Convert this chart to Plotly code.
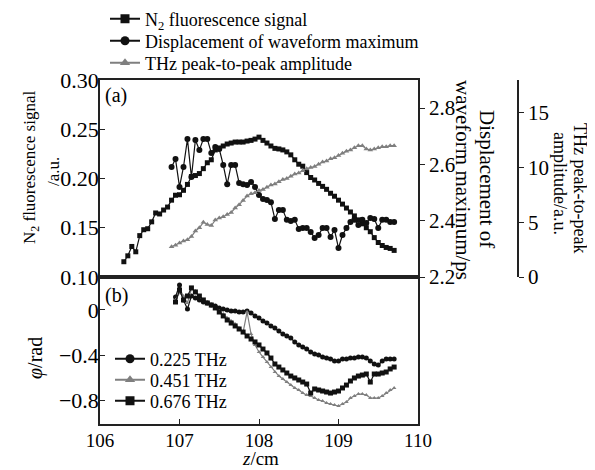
import numpy as np
import plotly.graph_objects as go

# (a) z positions, cm
z_n2 = np.round(np.arange(106.30, 109.701, 0.05), 2)
z_disp = np.round(np.arange(106.90, 109.701, 0.05), 2)
z_thz = np.round(np.arange(106.90, 109.701, 0.05), 2)

n2_signal = [0.1155, 0.1215, 0.131, 0.1256, 0.142, 0.148, 0.149, 0.156, 0.165, 0.164,
             0.168, 0.171, 0.178, 0.183, 0.1835, 0.188, 0.194, 0.202, 0.203, 0.205,
             0.210, 0.216, 0.219, 0.229, 0.231, 0.233, 0.235, 0.236, 0.237, 0.237,
             0.237, 0.238, 0.2387, 0.240, 0.242, 0.2387, 0.236, 0.233, 0.2306, 0.230,
             0.229, 0.227, 0.224, 0.219, 0.2145, 0.2125, 0.206, 0.201, 0.1985, 0.195,
             0.192, 0.189, 0.185, 0.182, 0.178, 0.174, 0.170, 0.166, 0.162, 0.158,
             0.154, 0.150, 0.146, 0.140, 0.135, 0.132, 0.130, 0.129, 0.127]

disp_max = [2.591, 2.619, 2.520, 2.591, 2.690, 2.555, 2.687, 2.651, 2.690, 2.690,
            2.641, 2.662, 2.655, 2.598, 2.530, 2.598, 2.598, 2.534, 2.530, 2.527,
            2.538, 2.520, 2.491, 2.477, 2.474, 2.466, 2.406, 2.438, 2.438, 2.403,
            2.399, 2.403, 2.371, 2.374, 2.374, 2.360, 2.339, 2.349, 2.374, 2.374,
            2.342, 2.367, 2.303, 2.349, 2.374, 2.395, 2.403, 2.385, 2.403, 2.392,
            2.410, 2.406, 2.374, 2.403, 2.403, 2.395, 2.395]

thz_amp = [2.77, 2.9, 3.1, 3.3, 3.4, 3.7, 4.2, 4.5, 5.0, 4.8,
           4.7, 5.2, 5.4, 5.5, 5.7, 5.9, 6.3, 6.6, 7.0, 7.4,
           7.6, 7.7, 7.9, 8.0, 8.2, 8.4, 8.5, 8.7, 8.9, 9.0,
           9.2, 9.4, 9.5, 9.7, 9.9, 10.0, 10.1, 10.3, 10.5, 10.6,
           10.8, 10.9, 11.1, 11.3, 11.5, 11.6, 11.8, 12.0, 12.0, 11.7,
           11.6, 11.7, 11.8, 11.9, 11.9, 12.0, 12.0]

# (b) phase, rad
z_phase = np.round(np.arange(106.95, 109.701, 0.05), 2)

phi_225 = [0.116, 0.222, 0.089, 0.009, 0.124, 0.107, 0.089, 0.071, 0.062, 0.044,
           0.036, 0.018, 0.009, 0.0, -0.009, -0.009, -0.018, -0.018, -0.009, -0.027,
           -0.053, -0.071, -0.098, -0.116, -0.142, -0.16, -0.187, -0.213, -0.231, -0.249,
           -0.284, -0.311, -0.329, -0.347, -0.373, -0.391, -0.4, -0.418, -0.427, -0.436,
           -0.453, -0.453, -0.436, -0.436, -0.427, -0.427, -0.418, -0.418, -0.427, -0.453,
           -0.48, -0.489, -0.453, -0.436, -0.436, -0.436]

phi_451 = [0.089, 0.151, 0.124, 0.062, 0.187, 0.169, 0.116, 0.089, 0.071, 0.044,
           0.018, -0.009, -0.036, -0.071, -0.098, -0.124, -0.16, -0.196, -0.018, -0.213,
           -0.311, -0.373, -0.418, -0.462, -0.507, -0.551, -0.587, -0.613, -0.64, -0.667,
           -0.693, -0.711, -0.738, -0.756, -0.764, -0.782, -0.8, -0.809, -0.827, -0.836,
           -0.844, -0.853, -0.836, -0.818, -0.782, -0.764, -0.747, -0.747, -0.756, -0.782,
           -0.782, -0.782, -0.764, -0.738, -0.711, -0.693]

phi_676 = [0.071, 0.178, 0.089, 0.124, 0.196, 0.16, 0.124, 0.089, 0.062, 0.044,
           0.018, -0.018, -0.053, -0.089, -0.116, -0.142, -0.169, -0.196, -0.231, -0.258,
           -0.284, -0.311, -0.347, -0.382, -0.427, -0.48, -0.507, -0.533, -0.56, -0.587,
           -0.604, -0.622, -0.64, -0.658, -0.738, -0.702, -0.711, -0.72, -0.729, -0.738,
           -0.729, -0.72, -0.693, -0.667, -0.631, -0.604, -0.587, -0.578, -0.569, -0.64,
           -0.569, -0.569, -0.56, -0.551, -0.524, -0.507]

top_names = ["N<sub>2</sub> fluorescence signal", "Displacement of waveform maximum",
             "THz peak-to-peak amplitude"]
bot_names = ["0.225 THz", "0.451 THz", "0.676 THz"]

# the page body keeps its default 8px margin, so work in window pixels and shift
OFF = 8
W, H = 595 - OFF, 470 - OFF
FONT = "Liberation Serif"
BLACK = "#111111"
GRAY = "#7f7f7f"


def px(x):
    return (x - OFF) / W


def py(y):
    return 1 - (y - OFF) / H


fig = go.Figure()

# panel (a)
fig.add_trace(go.Scatter(x=z_n2, y=n2_signal, xaxis="x2", yaxis="y2", mode="lines+markers",
                         line=dict(color=BLACK, width=1.2),
                         marker=dict(symbol="square", size=5, color=BLACK), showlegend=False))
fig.add_trace(go.Scatter(x=z_disp, y=disp_max, xaxis="x2", yaxis="y3", mode="lines+markers",
                         line=dict(color=BLACK, width=1.2),
                         marker=dict(symbol="circle", size=6, color=BLACK), showlegend=False))
fig.add_trace(go.Scatter(x=z_thz, y=thz_amp, xaxis="x2", yaxis="y4", mode="lines+markers",
                         line=dict(color=GRAY, width=1.2),
                         marker=dict(symbol="triangle-up", size=5, color=GRAY), showlegend=False))

# panel (b)
fig.add_trace(go.Scatter(x=z_phase, y=phi_225, mode="lines+markers",
                         line=dict(color=BLACK, width=1.2),
                         marker=dict(symbol="circle", size=5, color=BLACK), showlegend=False))
fig.add_trace(go.Scatter(x=z_phase, y=phi_451, mode="lines+markers",
                         line=dict(color=GRAY, width=1.2),
                         marker=dict(symbol="triangle-up", size=4, color=GRAY), showlegend=False))
fig.add_trace(go.Scatter(x=z_phase, y=phi_676, mode="lines+markers",
                         line=dict(color=BLACK, width=1.2),
                         marker=dict(symbol="square", size=5, color=BLACK), showlegend=False))

# legend entries, one legend box per row so rows sit where the reference has them
symbols = ["square", "circle", "triangle-up"]
colors = [BLACK, BLACK, GRAY]
bot_symbols = ["circle", "triangle-up", "square"]
bot_colors = [BLACK, GRAY, BLACK]
legends = {}
top_rows = [19, 41, 63]
bot_rows = [359, 380, 401]
for i in range(3):
    lid = "legend" if i == 0 else "legend%d" % (i + 1)
    fig.add_trace(go.Scatter(x=[None], y=[None], mode="lines+markers", name=top_names[i],
                             line=dict(color=colors[i], width=2),
                             marker=dict(symbol=symbols[i], size=9, color=colors[i]),
                             legend=lid))
    legends[lid] = dict(x=px(105), y=py(top_rows[i]), xanchor="left", yanchor="middle",
                        bgcolor="rgba(0,0,0,0)", font=dict(family=FONT, size=18),
                        itemwidth=30)
for i in range(3):
    lid = "legend%d" % (i + 4)
    fig.add_trace(go.Scatter(x=[None], y=[None], mode="lines+markers", name=bot_names[i],
                             line=dict(color=bot_colors[i], width=2),
                             marker=dict(symbol=bot_symbols[i], size=9, color=bot_colors[i]),
                             legend=lid))
    legends[lid] = dict(x=px(110), y=py(bot_rows[i]), xanchor="left", yanchor="middle",
                        bgcolor="rgba(0,0,0,0)", font=dict(family=FONT, size=18),
                        itemwidth=30)

xdom = [px(100), px(418)]
axis_common = dict(showline=True, linecolor="#222222", linewidth=1.5, showgrid=False,
                   zeroline=False, automargin=False, ticklen=5, tickcolor="#222222")
left_font = dict(family=FONT, size=22, color="black")
right_font = dict(family=FONT, size=21, color="black")

fig.update_layout(
    width=W, height=H, margin=dict(l=0, r=0, t=0, b=0, autoexpand=False),
    paper_bgcolor="white", plot_bgcolor="white",
    font=dict(family=FONT, size=18, color="black"),
    xaxis=dict(domain=xdom, anchor="y", range=[106, 110], dtick=1, ticks="inside",
               mirror=True, tickfont=dict(family=FONT, size=19, color="black"),
               ticklabelstandoff=-2, **axis_common),
    yaxis=dict(domain=[py(424), py(277)], anchor="x", range=[-1.013, 0.293],
               tickvals=[0, -0.4, -0.8], ticktext=["0", "\u22120.4", "\u22120.8"],
               ticks="inside", mirror=True, tickfont=left_font, ticklabelstandoff=-5,
               **axis_common),
    xaxis2=dict(domain=xdom, anchor="y2", matches="x", range=[106, 110], showticklabels=False,
                ticks="", mirror=True, **axis_common),
    yaxis2=dict(domain=[py(277), py(80)], anchor="x2", range=[0.10, 0.30], dtick=0.05,
                tickformat=".2f", ticks="inside", tickfont=left_font, ticklabelstandoff=-5,
                **axis_common),
    yaxis3=dict(overlaying="y2", side="right", anchor="x2", range=[2.2, 2.9], dtick=0.2,
                tickformat=".1f", ticks="outside", tickfont=right_font, **axis_common),
    yaxis4=dict(overlaying="y2", side="right", anchor="free", position=px(518),
                range=[0, 18], tickvals=[0, 5, 10, 15], ticks="outside", tickfont=right_font,
                **axis_common),
    **legends,
)

ann_font = dict(family=FONT, size=20, color="black")
ann = dict(xref="paper", yref="paper", showarrow=False, xanchor="center", yanchor="middle")
fig.add_annotation(text="(a)", x=px(103), y=py(95), font=ann_font,
                   **{**ann, "xanchor": "left"})
fig.add_annotation(text="(b)", x=px(103), y=py(295), font=ann_font,
                   **{**ann, "xanchor": "left"})
# left titles, one annotation per line
fig.add_annotation(text="N<sub>2</sub> fluorescence signal", x=px(31), y=py(167),
                   textangle=-90, font=dict(family=FONT, size=17, color="black"), **ann)
fig.add_annotation(text="/a.u.", x=px(53), y=py(172),
                   textangle=-90, font=dict(family=FONT, size=17, color="black"), **ann)
fig.add_annotation(text="<i>\u03c6</i>/rad", x=px(35), y=py(358), textangle=-90,
                   font=ann_font, **ann)
# right titles
fig.add_annotation(text="Displacement of", x=px(487), y=py(179),
                   textangle=90, font=dict(family=FONT, size=21, color="black"), **ann)
fig.add_annotation(text="waveform maximum/ps", x=px(463), y=py(180),
                   textangle=90, font=dict(family=FONT, size=21, color="black"), **ann)
fig.add_annotation(text="THz peak-to-peak", x=px(580), y=py(188),
                   textangle=90, font=dict(family=FONT, size=18, color="black"), **ann)
fig.add_annotation(text="amplitude/a.u.", x=px(560), y=py(183),
                   textangle=90, font=dict(family=FONT, size=18, color="black"), **ann)
fig.add_annotation(text="<i>z</i>/cm", x=px(260), y=py(458),
                   font=dict(family=FONT, size=19, color="black"), **ann)

fig.write_html("out.html")
